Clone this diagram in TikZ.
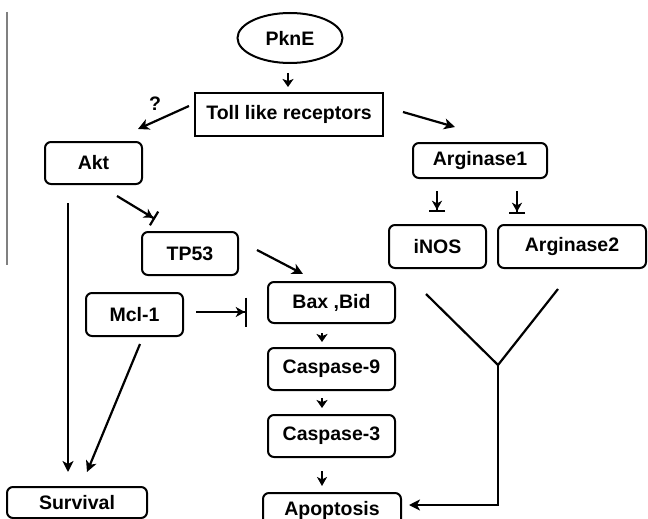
\documentclass[tikz,border=0pt]{standalone}
\usepackage{fontspec}
\setmainfont{Liberation Sans}
\usetikzlibrary{arrows.meta,calc,shapes.geometric}
\begin{document}
\begin{tikzpicture}[x=1pt,y=-1pt,
  lbl/.style={font=\fontsize{19.5}{22}\selectfont\bfseries},
  box/.style={lbl,draw,line width=2pt,rounded corners=6pt,inner sep=0pt},
  sqbox/.style={lbl,draw,line width=2pt,inner sep=0pt},
  conn/.style={line width=2.2pt,-{Stealth[length=11pt,width=11pt,inset=3pt]}},
  smallarr/.style={line width=2.6pt,-{Stealth[length=8pt,width=11pt,inset=2pt]}},
  thinarr/.style={line width=2pt,-{Stealth[length=9pt,width=10pt,inset=2.5pt]}},
  inh/.style={line width=2.2pt,-{Stealth[length=9pt,width=10pt,inset=2.5pt]Bar[width=16pt]}},
  plain/.style={line width=2.2pt},
]
\useasboundingbox (0,0) rectangle (648,519);
\clip (0,0) rectangle (648,519);
\fill[white] (0,0) rectangle (648,519);
% gray margin line
\draw[line width=2pt,gray] (7,12) -- (7,265);

\node[ellipse,draw,line width=2pt,lbl,minimum width=105pt,minimum height=50pt,inner sep=0pt] (pk) at (290,38) {PknE};
\node[sqbox,minimum width=188pt,minimum height=43pt] (tlr) at (289,114.5) {Toll like receptors};
\node[box,minimum width=97pt,minimum height=42pt] (akt) at (93.5,163) {Akt};
\node[box,minimum width=134pt,minimum height=35pt] (arg1) at (480,160.5) {Arginase1};
\node[box,minimum width=96pt,minimum height=43pt] (tp53) at (190,253.5) {TP53};
\node[box,minimum width=97pt,minimum height=43pt] (inos) at (437.5,246.5) {iNOS};
\node[box,minimum width=148pt,minimum height=43pt] (arg2) at (572,246.5) {Arginase2};
\node[box,minimum width=127pt,minimum height=41pt] (bax) at (331.5,302.5) {Bax ,Bid};
\node[box,minimum width=97pt,minimum height=43pt] (mcl) at (134.5,314.5) {Mcl-1};
\node[box,minimum width=127pt,minimum height=42pt] (c9) at (331.5,369) {Caspase-9};
\node[box,minimum width=127pt,minimum height=42pt] (c3) at (331.5,436) {Caspase-3};
\node[box,minimum width=138pt,minimum height=34pt] (apo) at (332,510) {Apoptosis};
\node[box,minimum width=140pt,minimum height=31pt] (surv) at (77,502.5) {Survival};
\node[lbl,inner sep=0pt] (q) at (155,104) {?};

% connectors
\draw[smallarr] ($(pk.south)+(-2,9)$) -- ($(tlr.north)+(-1,-5)$);
\draw[conn] ($(tlr.west)+(-5,-8.5)$) -- ($(akt.north east)+(-5,-12)$);
\draw[conn] ($(tlr.east)+(19,-2.5)$) -- ($(arg1.north)+(-25,-15)$);
\draw[inh] ($(akt.south)+(23.5,11)$) -- ($(tp53.north)+(-35,-12)$);
\draw[inh] ($(arg1.south)+(-43,12)$) -- ($(inos.north)+(-0.5,-12)$);
\draw[inh] ($(arg1.south)+(37,12)$) -- ($(arg1.south)+(37,35)$);
\draw[conn] ($(tp53.east)+(18,-3.5)$) -- ($(bax.north)+(-28.5,-7)$);
\draw[line width=2.2pt,-{Stealth[length=9pt,width=10pt,inset=2.5pt]Bar[width=29pt]}] ($(mcl.east)+(12,-2.5)$) -- ($(bax.west)+(-20,9.5)$);
\draw[smallarr] ($(bax.south)+(-9.5,9)$) -- ($(c9.north)+(-9.5,-5)$);
\draw[smallarr] ($(c9.south)+(-9.5,7)$) -- ($(c3.north)+(-9.5,-6)$);
\draw[thinarr] ($(c3.south)+(-9.5,13)$) -- ($(c3.south)+(-9.5,28)$);
\draw[conn] ($(akt.south)+(-25.5,18)$) -- ($(surv.north)+(-9,-14)$);
\draw[conn] ($(mcl.south)+(5.5,7)$) -- ($(surv.north)+(10,-14)$);
\coordinate (j) at (498,365);
\draw[plain] ($(inos.south)+(-11.5,25)$) -- (j);
\draw[plain] ($(arg2.south)+(-14,20)$) -- (j);
\draw[conn] (j) |- ($(apo.east)+(7,-5)$);
\end{tikzpicture}
\end{document}
